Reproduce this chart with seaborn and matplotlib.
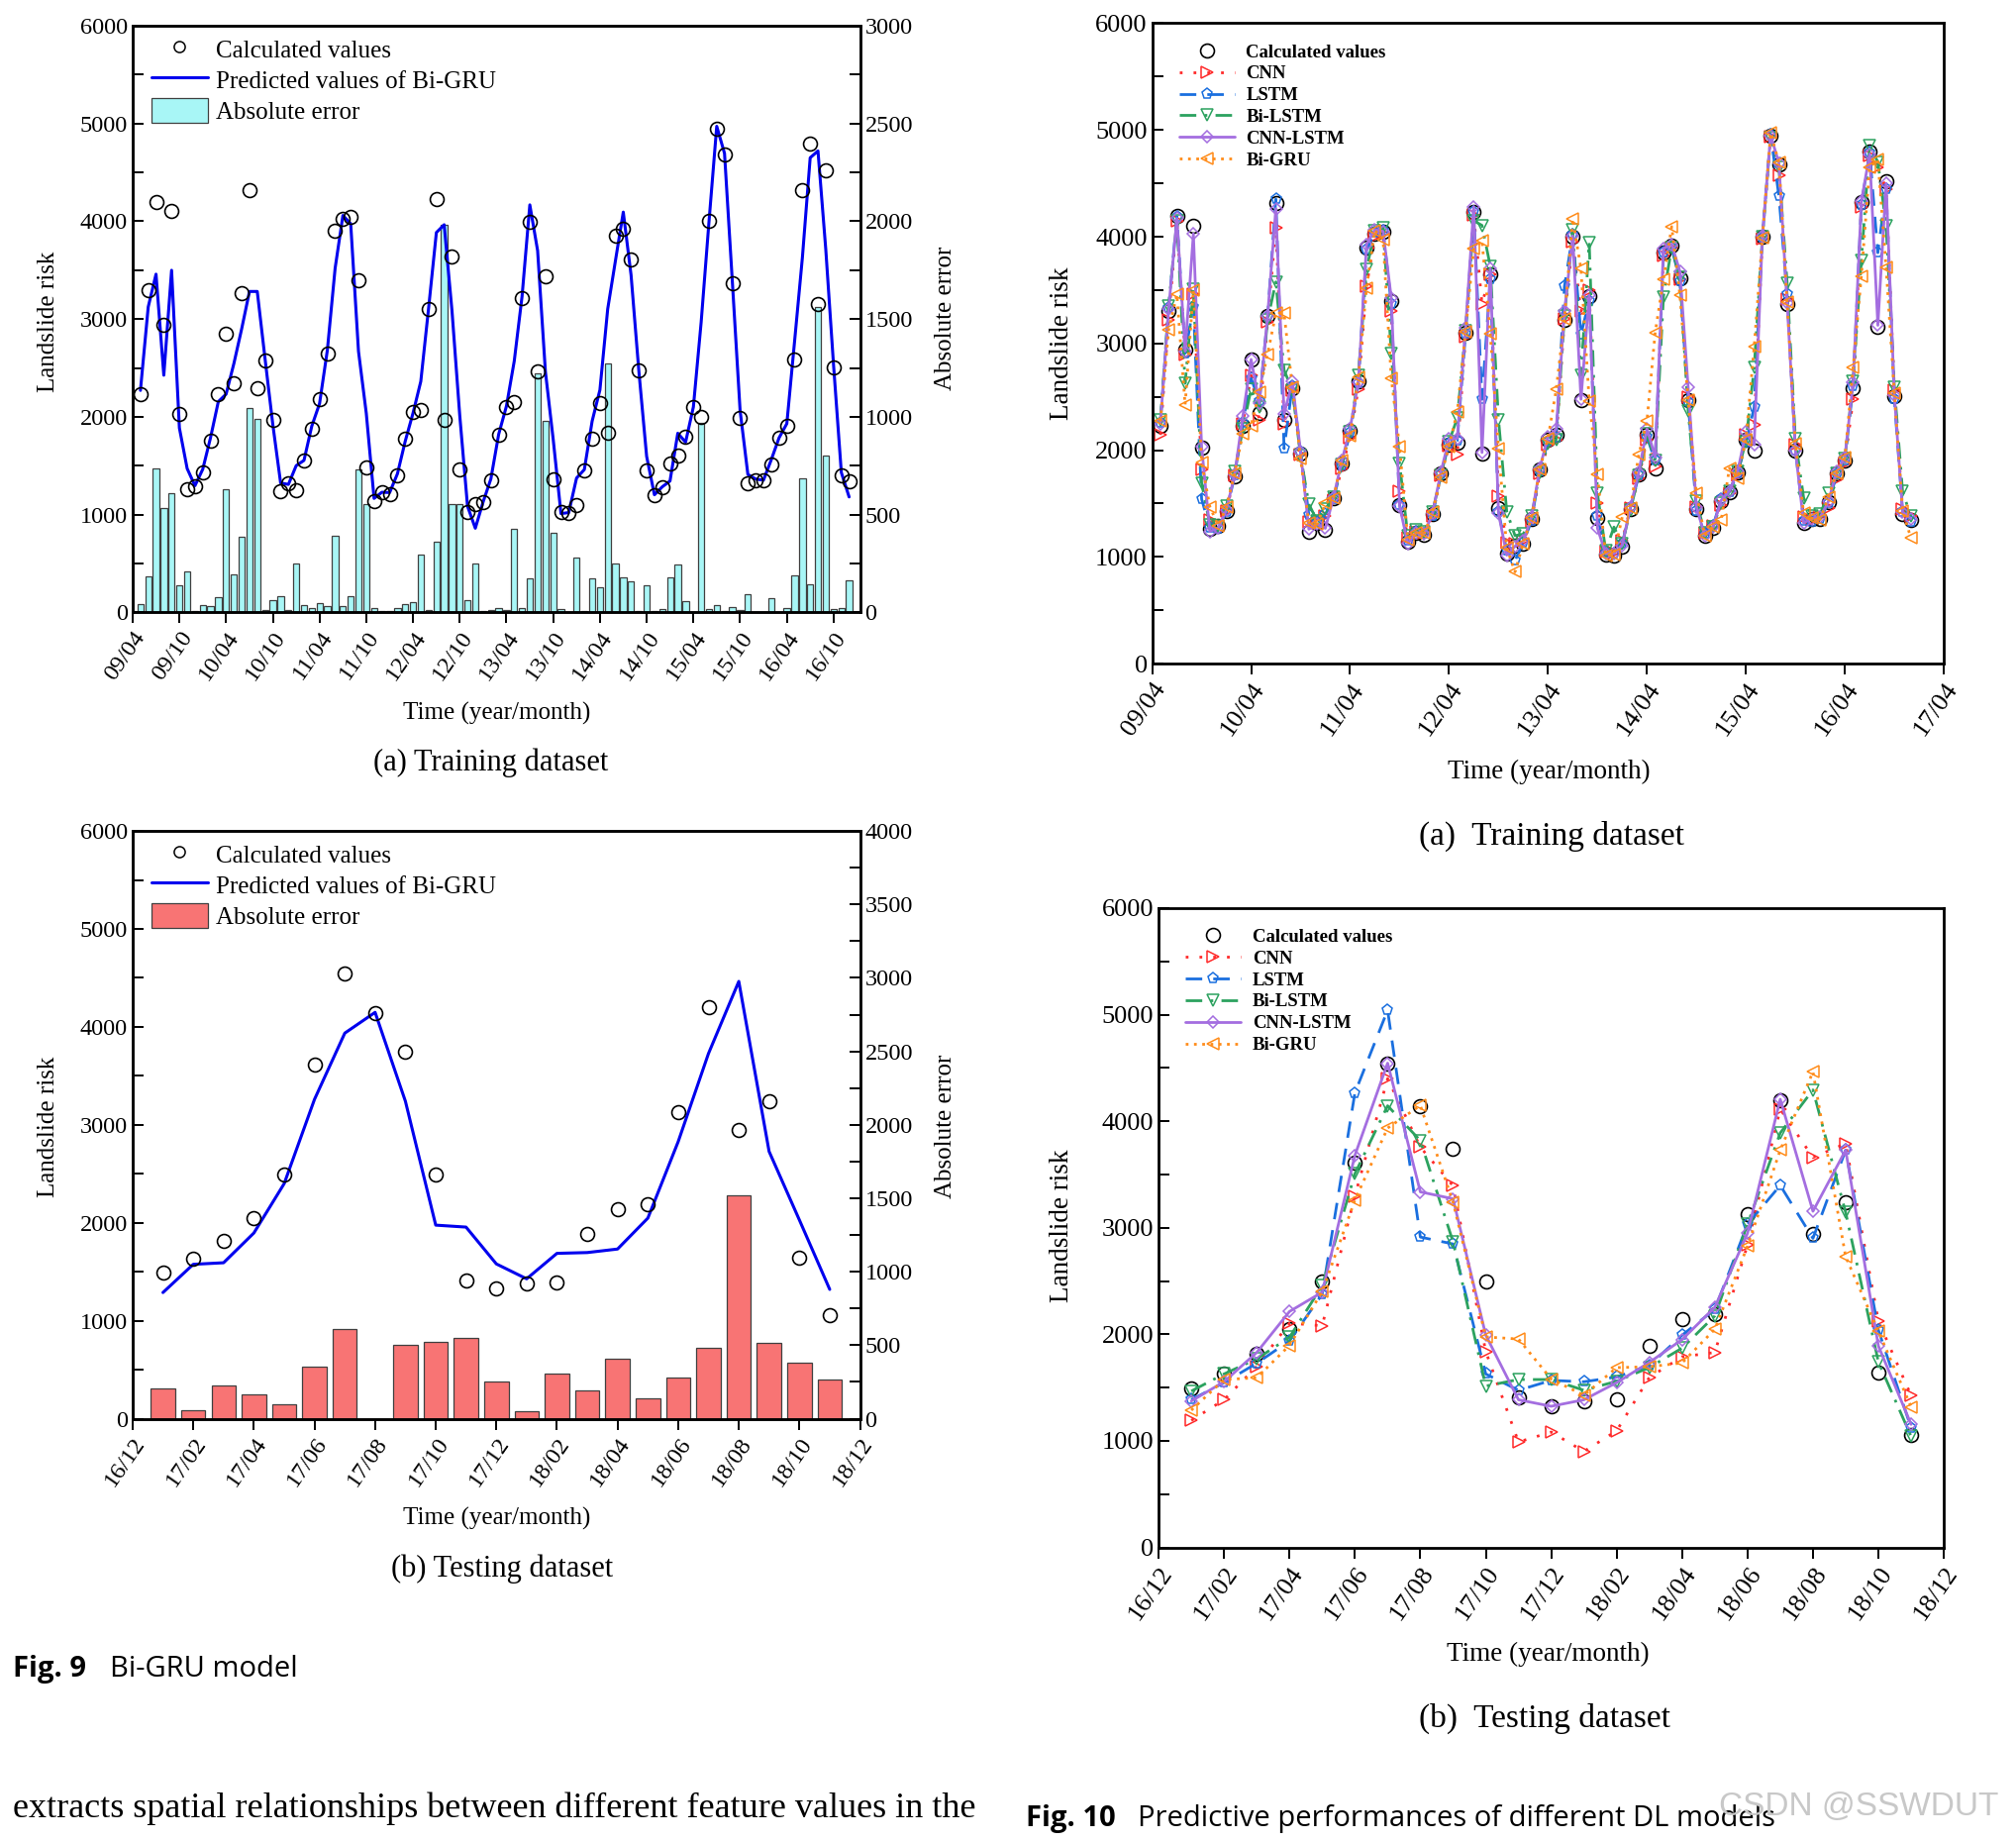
# Fig. 9 / Fig. 10 re-draw: Bi-GRU landslide risk and DL model comparison
import numpy as np
import pandas as pd
import matplotlib
matplotlib.use("Agg")
import matplotlib.pyplot as plt
from matplotlib.lines import Line2D
from matplotlib.patches import Patch
from matplotlib.ticker import MultipleLocator
import seaborn as sns

# ---- time axes ----
train_months = pd.period_range("2009-05", "2016-12", freq="M")
test_months = pd.period_range("2017-01", "2018-11", freq="M")
train_ticks_6m = pd.period_range("2009-04", "2016-10", freq="6M")
train_ticks_12m = pd.period_range("2009-04", "2017-04", freq="12M")
test_ticks_2m = pd.period_range("2016-12", "2018-12", freq="2M")

# ---- training data (monthly, 2009/05 - 2016/12) ----
train_calc = [
    2228, 3300, 4192, 2944, 4104, 2028, 1260, 1288, 1428, 1756,
    2228, 2848, 2348, 3260, 4320, 2288, 2580, 1972, 1240, 1320,
    1252, 1548, 1880, 2180, 2648, 3900, 4028, 4048, 3400, 1484,
    1140, 1228, 1208, 1400, 1780, 2048, 2072, 3100, 4228, 1972,
    3644, 1460, 1028, 1108, 1128, 1352, 1820, 2100, 2148, 3218,
    3996, 2465, 3439, 1363, 1022, 1014, 1094, 1451, 1776, 2144,
    1832, 3856, 3920, 3607, 2473, 1451, 1194, 1275, 1523, 1603,
    1796, 2096, 1996, 4000, 4942, 4681, 3367, 1992, 1323, 1355,
    1355, 1511, 1784, 1904, 2585, 4321, 4798, 3158, 4521, 2505,
    1403, 1343]
train_bigru = [
    2270, 3124, 3459, 2425, 3499, 1886, 1470, 1295, 1463, 1786,
    2155, 2232, 2545, 2900, 3282, 3282, 2594, 1919, 1323, 1308,
    1500, 1554, 1904, 2135, 2680, 3520, 4060, 3975, 2670, 2036,
    1165, 1228, 1225, 1417, 1750, 2037, 2362, 3110, 3885, 3965,
    3090, 2015, 1085, 860, 1128, 1365, 1821, 2110, 2570, 3230,
    4168, 3700, 2463, 1770, 1010, 1020, 1373, 1460, 1955, 2275,
    3103, 3600, 4094, 3450, 2468, 1595, 1202, 1283, 1343, 1832,
    1740, 2100, 2968, 3990, 4972, 4695, 3390, 2064, 1410, 1363,
    1351, 1560, 1784, 1930, 2775, 3630, 4650, 4720, 3715, 2530,
    1430, 1180]
train_abs_err = [
    44, 186, 737, 531, 611, 140, 210, 7, 35, 30,
    76, 627, 194, 385, 1046, 988, 14, 64, 84, 14,
    248, 35, 24, 46, 30, 389, 30, 84, 731, 551,
    20, 6, 6, 20, 40, 54, 293, 14, 359, 1984,
    555, 555, 60, 252, 6, 10, 20, 14, 427, 20,
    174, 1222, 978, 405, 16, 0, 279, 6, 174, 130,
    1271, 250, 180, 158, 8, 140, 6, 16, 180, 242,
    58, 0, 968, 16, 36, 6, 26, 10, 90, 0,
    0, 74, 0, 20, 190, 685, 144, 1563, 800, 16,
    24, 164]
train_cnn = [
    2143, 3222, 4150, 2900, 3458, 1817, 1350, 1300, 1430, 1760,
    2250, 2700, 2280, 3200, 4086, 2250, 2560, 1960, 1330, 1320,
    1380, 1530, 1830, 2120, 2575, 3536, 4000, 4030, 3300, 1613,
    1180, 1240, 1230, 1380, 1760, 2040, 1958, 3060, 4200, 3372,
    3650, 1574, 1130, 1120, 1150, 1330, 1780, 2050, 2100, 3230,
    3950, 3300, 3497, 1500, 1050, 1040, 1150, 1460, 1740, 2100,
    1850, 3820, 3900, 3600, 2500, 1470, 1230, 1290, 1490, 1600,
    1760, 2140, 2233, 3980, 4940, 4576, 3420, 2050, 1370, 1350,
    1380, 1460, 1730, 1880, 2477, 4280, 4760, 4650, 4450, 2560,
    1450, 1380]
train_lstm = [
    2260, 3330, 4190, 2908, 3340, 1542, 1270, 1260, 1420, 1760,
    2260, 2673, 2457, 3250, 4353, 2014, 2600, 1990, 1397, 1330,
    1400, 1540, 1860, 2160, 2630, 3880, 4040, 4060, 3370, 1490,
    1150, 1240, 1220, 1380, 1770, 2060, 2090, 3090, 4235, 2477,
    3600, 1420, 1060, 966, 1130, 1340, 1800, 2080, 2120, 3536,
    4020, 3085, 3400, 1380, 1040, 1030, 1120, 1460, 1760, 2123,
    1900, 3850, 3900, 3580, 2450, 1430, 1220, 1290, 1540, 1610,
    1780, 2070, 2400, 3990, 4960, 4380, 3458, 2000, 1340, 1330,
    1360, 1500, 1770, 1900, 2600, 4300, 4790, 3850, 4450, 2480,
    1420, 1330]
train_bilstm = [
    2280, 3352, 4150, 2626, 3505, 1692, 1300, 1290, 1480, 1800,
    2200, 2575, 2400, 3220, 3576, 2751, 2560, 1950, 1495, 1340,
    1450, 1560, 1870, 2170, 2700, 3693, 4060, 4086, 2908, 1880,
    1200, 1250, 1240, 1420, 1760, 2080, 2300, 3120, 4150, 4106,
    3725, 2288, 1425, 1200, 1213, 1380, 1790, 2060, 2100, 3260,
    4066, 2700, 3948, 1594, 1060, 1280, 1120, 1440, 1760, 2150,
    1900, 3438, 3900, 3620, 2367, 1520, 1230, 1280, 1500, 1620,
    1800, 2080, 2771, 4000, 4930, 4650, 3568, 2104, 1554, 1380,
    1400, 1594, 1780, 1920, 2650, 3780, 4851, 4700, 4106, 2594,
    1613, 1380]
train_cnn_lstm = [
    2250, 3320, 4172, 2928, 4027, 2030, 1240, 1270, 1440, 1770,
    2320, 2850, 2437, 3260, 4263, 2339, 2641, 1986, 1260, 1310,
    1268, 1560, 1900, 2200, 2640, 3929, 4066, 4050, 3426, 1480,
    1123, 1230, 1215, 1410, 1790, 2104, 2112, 3144, 4282, 1978,
    3701, 1409, 1017, 1100, 1150, 1370, 1830, 2130, 2200, 3301,
    4007, 2477, 3450, 1268, 1030, 1030, 1110, 1470, 1790, 2200,
    1935, 3890, 3930, 3674, 2587, 1470, 1200, 1280, 1530, 1620,
    1800, 2170, 2050, 4010, 4950, 4690, 3380, 2000, 1319, 1360,
    1370, 1520, 1800, 1930, 2634, 4330, 4773, 3170, 4498, 2520,
    1420, 1360]

# ---- testing data (monthly, 2017/01 - 2018/11) ----
test_calc = [1496, 1636, 1816, 2052, 2496, 3616, 4540, 4140, 3744, 2496, 1408, 1328,
             1376, 1388, 1888, 2140, 2188, 3132, 4196, 2944, 3244, 1640, 1060]
test_bigru = [1288, 1576, 1592, 1896, 2400, 3260, 3936, 4148, 3240, 1976, 1956, 1580,
              1428, 1688, 1696, 1732, 2048, 2828, 3728, 4464, 2728, 2028, 1320]
test_abs_err = [205, 61, 229, 165, 96, 357, 611, 0, 501, 525, 549, 253,
                51, 304, 192, 405, 141, 277, 485, 1520, 515, 379, 264]
test_cnn = [1192, 1386, 1700, 2105, 2081, 3300, 4400, 3757, 3394, 1838, 990, 1083,
            901, 1095, 1596, 1790, 1830, 2840, 4113, 3660, 3790, 2125, 1426]
test_lstm = [1386, 1547, 1729, 1939, 2376, 4266, 5042, 2913, 2848, 1628, 1475, 1568,
             1555, 1600, 1709, 1992, 2234, 3034, 3398, 2901, 3729, 2040, 1123]
test_bilstm = [1467, 1628, 1770, 1972, 2456, 3507, 4145, 3818, 2868, 1515, 1576, 1576,
               1475, 1560, 1689, 1871, 2173, 3034, 3890, 4294, 3143, 1741, 1042]
test_cnn_lstm = [1374, 1555, 1830, 2214, 2396, 3680, 4545, 3337, 3272, 1992, 1386, 1325,
                 1386, 1547, 1737, 1951, 2254, 2949, 4206, 3155, 3729, 1891, 1155]


def month_pos(periods, origin):
    # months elapsed since the origin month ("YYYY-MM")
    oy, om = (int(v) for v in origin.split("-"))
    return np.array([(p.year - oy) * 12 + (p.month - om) for p in periods])


def month_labels(periods):
    return [f"{p.year % 100:02d}/{p.month:02d}" for p in periods]


sns.set_theme(style="ticks", rc={
    "axes.edgecolor": "black", "xtick.color": "black", "ytick.color": "black",
    "text.color": "black", "axes.labelcolor": "black", "axes.linewidth": 1.8,
})
SERIF = ["Liberation Serif", "DejaVu Serif"]
SANS = ["Open Sans", "DejaVu Sans"]
plt.rcParams["font.family"] = SERIF

fig = plt.figure(figsize=(20.36, 18.6), dpi=100)


def serif_ticks(ax):
    for lab in ax.get_xticklabels() + ax.get_yticklabels():
        lab.set_family(SERIF)


def bigru_panel(rect, x, calc, pred, err, bar_color, xlim, ticks, tick_labels,
                err_max, err_major, err_minor):
    ax = fig.add_axes(rect)
    ax2 = ax.twinx()
    sns.barplot(x=x, y=err, native_scale=True, ax=ax2, color=bar_color,
                edgecolor="#404040", linewidth=0.9, width=0.8, saturation=1,
                errorbar=None)
    sns.lineplot(x=x, y=pred, ax=ax, color="#0000ee", lw=2.2,
                 estimator=None, sort=False)
    sns.lineplot(x=x, y=calc, ax=ax, color="black", linestyle="", marker="o",
                 markersize=10, markerfacecolor="none", markeredgecolor="black",
                 markeredgewidth=1.2, estimator=None, sort=False)
    ax.set_zorder(ax2.get_zorder() + 1)
    ax.patch.set_visible(False)

    ax.set_xlim(*xlim)
    ax.set_xticks(ticks)
    ax.set_xticklabels(tick_labels)
    ax.set_ylim(0, 6000)
    ax.yaxis.set_major_locator(MultipleLocator(1000))
    ax.yaxis.set_minor_locator(MultipleLocator(500))
    ax2.set_ylim(0, err_max)
    ax2.yaxis.set_major_locator(MultipleLocator(err_major))
    ax2.yaxis.set_minor_locator(MultipleLocator(err_minor))
    for a in (ax, ax2):
        a.set_xlabel("")
        a.set_ylabel("")
    ax.tick_params(axis="y", which="both", direction="in", length=8, width=1.4,
                   labelsize=17.5)
    ax.tick_params(axis="x", direction="out", length=8, width=1.4, labelsize=17.5,
                   pad=3)
    ax2.tick_params(axis="y", which="both", direction="in", length=8, width=1.4,
                    labelsize=17.5)
    plt.setp(ax.get_xticklabels(), rotation=55, ha="right", rotation_mode="anchor")
    serif_ticks(ax)
    serif_ticks(ax2)
    for s in ax.spines.values():
        s.set_linewidth(1.8)

    handles = [
        Line2D([], [], ls="", marker="o", ms=8, mfc="none", mec="black", mew=1.1),
        Line2D([], [], color="#0000ee", lw=2.2),
        Patch(facecolor=bar_color, edgecolor="#404040", linewidth=0.9),
    ]
    ax.legend(handles, ["Calculated values", "Predicted values of Bi-GRU",
                        "Absolute error"],
              loc="upper left", bbox_to_anchor=(0.005, 1.008), frameon=False,
              fontsize=18, handlelength=2.3, handleheight=1.2, labelspacing=0.2,
              handletextpad=0.3, borderaxespad=0.2)
    return ax


# ---- Fig. 9 (a) ----
x_tr = month_pos(train_months, "2009-04")
bigru_panel([0.0658, 0.6676, 0.3608, 0.3184], x_tr, train_calc, train_bigru,
            train_abs_err, "#a8f6f6", (0, 93.4),
            month_pos(train_ticks_6m, "2009-04"), month_labels(train_ticks_6m),
            3000, 500, 250)
fig.text(0.0243, 0.8254, "Landslide risk", rotation=90, ha="center", va="center",
         fontsize=18)
fig.text(0.4693, 0.827, "Absolute error", rotation=90, ha="center", va="center",
         fontsize=18)
fig.text(0.2465, 0.6124, "Time (year/month)", ha="center", va="center", fontsize=18)
fig.text(0.2433, 0.5859, "(a) Training dataset", ha="center", va="center",
         fontsize=22)

# ---- Fig. 9 (b) ----
x_te = month_pos(test_months, "2016-12")
bigru_panel([0.0658, 0.2298, 0.3608, 0.3191], x_te, test_calc, test_bigru,
            test_abs_err, "#f87474", (0, 24),
            month_pos(test_ticks_2m, "2016-12"), month_labels(test_ticks_2m),
            4000, 500, 250)
fig.text(0.0243, 0.3883, "Landslide risk", rotation=90, ha="center", va="center",
         fontsize=18)
fig.text(0.4693, 0.3883, "Absolute error", rotation=90, ha="center", va="center",
         fontsize=18)
fig.text(0.2465, 0.1753, "Time (year/month)", ha="center", va="center", fontsize=18)
fig.text(0.249, 0.148, "(b) Testing dataset", ha="center", va="center", fontsize=22)

fig.text(0.0064, 0.0936, "Fig. 9", family=SANS, weight="bold", fontsize=21,
         ha="left", va="center")
fig.text(0.0543, 0.0936, "Bi-GRU model", family=SANS, fontsize=21,
         ha="left", va="center")


# ---- Fig. 10 ----
model_styles = [
    ("CNN", "#ff2a2a", (0, (1, 4)), ">", 8),
    ("LSTM", "#1a6fdf", (0, (6, 4)), "p", 8),
    ("Bi-LSTM", "#2ca25f", (0, (6, 3, 1, 3)), "v", 8),
    ("CNN-LSTM", "#a46ee0", "-", "D", 6.5),
    ("Bi-GRU", "#ff8c1a", (0, (1, 2)), "<", 8),
]


def compare_panel(rect, x, calc, series, xlim, ticks, tick_labels):
    ax = fig.add_axes(rect)
    sns.lineplot(x=x, y=calc, ax=ax, color="black", linestyle="", marker="o",
                 markersize=10, markerfacecolor="none", markeredgecolor="black",
                 markeredgewidth=1.2, estimator=None, sort=False,
                 label="Calculated values")
    for (name, color, ls, mk, ms), y in zip(model_styles, series):
        sns.lineplot(x=x, y=y, ax=ax, color=color, linestyle=ls, lw=2.0,
                     marker=mk, markersize=ms, markerfacecolor="none",
                     markeredgecolor=color, markeredgewidth=1.1,
                     estimator=None, sort=False, label=name)
    ax.set_xlim(*xlim)
    ax.set_xticks(ticks)
    ax.set_xticklabels(tick_labels)
    ax.set_ylim(0, 6000)
    ax.yaxis.set_major_locator(MultipleLocator(1000))
    ax.yaxis.set_minor_locator(MultipleLocator(500))
    ax.set_xlabel("")
    ax.set_ylabel("")
    ax.tick_params(axis="y", which="both", direction="in", length=8, width=1.4,
                   labelsize=19)
    ax.tick_params(axis="x", direction="out", length=8, width=1.4, labelsize=19,
                   pad=3)
    plt.setp(ax.get_xticklabels(), rotation=55, ha="right", rotation_mode="anchor")
    serif_ticks(ax)
    for s in ax.spines.values():
        s.set_linewidth(2.0)
    ax.legend(loc="upper left", bbox_to_anchor=(0.02, 0.985), frameon=False,
              prop={"family": SERIF, "size": 13.5, "weight": "bold"},
              handlelength=3.0, labelspacing=0.25, handletextpad=0.6,
              borderaxespad=0.2)
    return ax


compare_panel([0.5715, 0.6397, 0.3927, 0.3477], x_tr, train_calc,
              [train_cnn, train_lstm, train_bilstm, train_cnn_lstm, train_bigru],
              (0, 96), month_pos(train_ticks_12m, "2009-04"),
              month_labels(train_ticks_12m))
fig.text(0.5268, 0.8135, "Landslide risk", rotation=90, ha="center", va="center",
         fontsize=19.5)
fig.text(0.7682, 0.581, "Time (year/month)", ha="center", va="center", fontsize=19.5)
fig.text(0.7695, 0.5461, "(a)  Training dataset", ha="center", va="center",
         fontsize=24)

compare_panel([0.5747, 0.1599, 0.3895, 0.3471], x_te, test_calc,
              [test_cnn, test_lstm, test_bilstm, test_cnn_lstm, test_bigru],
              (0, 24), month_pos(test_ticks_2m, "2016-12"),
              month_labels(test_ticks_2m))
fig.text(0.5268, 0.3345, "Landslide risk", rotation=90, ha="center", va="center",
         fontsize=19.5)
fig.text(0.768, 0.102, "Time (year/month)", ha="center", va="center", fontsize=19.5)
fig.text(0.766, 0.067, "(b)  Testing dataset", ha="center", va="center", fontsize=24)

fig.text(0.509, 0.0126, "Fig. 10", family=SANS, weight="bold", fontsize=21,
         ha="left", va="center")
fig.text(0.5645, 0.0126, "Predictive performances of different DL models",
         family=SANS, fontsize=21, ha="left", va="center")

# page text under the figures
fig.text(0.0064, 0.0182, "extracts spatial relationships between different feature "
         "values in the", fontsize=26, ha="left", va="center")
fig.text(0.8525, 0.019, "CSDN @SSWDUT", family=["Liberation Sans", "DejaVu Sans"],
         fontsize=24, color="#c8c8c8", ha="left", va="center")

fig.savefig("out.png", dpi=100)
